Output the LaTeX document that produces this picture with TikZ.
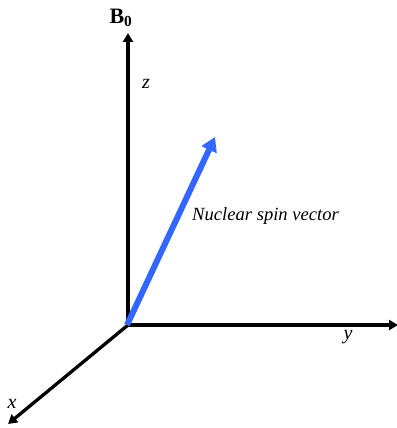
\documentclass[tikz,border=0pt]{standalone}
\usepackage{fontspec}
\setmainfont{Liberation Serif}
\usepackage{xcolor}
\usepackage{tikz}
\usetikzlibrary{arrows.meta,positioning}
\definecolor{spinblue}{HTML}{3366FF}
\tikzset{
  axis/.style={line width=3.3pt, draw=black, -{Triangle[length=9pt, width=10pt]}},
  spin/.style={line width=6pt, draw=spinblue, -{Triangle[length=14pt, width=16pt]}},
  axislabel/.style={font=\fontsize{20}{22}\selectfont\itshape, inner sep=0pt},
  spinlabel/.style={font=\fontsize{18.6}{20}\selectfont\itshape, inner sep=0pt, anchor=west}
}
\begin{document}
\begin{tikzpicture}[x=1pt,y=-1pt]
\path[use as bounding box] (0,0) rectangle (396,428);

\coordinate (origin) at (128,325);
\coordinate (zend) at (128,33);
\coordinate (yend) at (398,325);
\coordinate (xend) at (8,424);
\coordinate (spintip) at (215,137);

\draw[axis] (origin) -- (zend);
\draw[axis] (origin) -- (yend);
\draw[axis] (origin) -- (xend);
\draw[spin] ([xshift=-1pt]origin) -- (spintip);

\node[font=\fontsize{22}{24}\selectfont\bfseries, inner sep=0pt] (bzero) at (121,18) {B$_\mathbf{0}$};
\node[axislabel] (zlabel) at (146,84) {z};
\node[axislabel] (ylabel) at (348,337) {y};
\node[axislabel] (xlabel) at (12,404) {x};
\node[spinlabel] (spinlabel) at (192,216) {Nuclear spin vector};

\end{tikzpicture}
\end{document}
